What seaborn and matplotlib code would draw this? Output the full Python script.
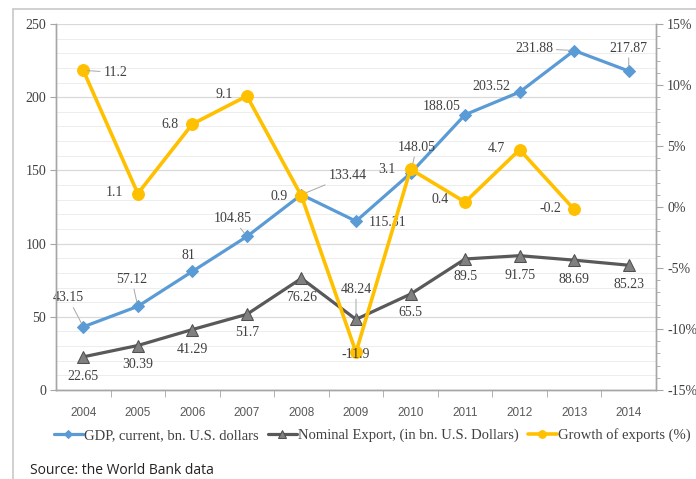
import pandas as pd
import matplotlib.pyplot as plt
import matplotlib.ticker as mticker
from matplotlib.lines import Line2D
import seaborn as sns

# Data
years = [2004, 2005, 2006, 2007, 2008, 2009, 2010, 2011, 2012, 2013, 2014]
gdp = [43.15, 57.12, 81, 104.85, 133.44, 115.31, 148.05, 188.05, 203.52, 231.88, 217.87]
export = [22.65, 30.39, 41.29, 51.7, 76.26, 48.24, 65.5, 89.5, 91.75, 88.69, 85.23]
growth_years = years[:-1]
growth = [11.2, 1.1, 6.8, 9.1, 0.9, -11.9, 3.1, 0.4, 4.7, -0.2]

gdp_lab = 'GDP, current, bn. U.S. dollars'
exp_lab = 'Nominal Export, (in bn. U.S. Dollars)'
gro_lab = 'Growth of exports (%)'

df = pd.DataFrame({'year': years, 'gdp': gdp, 'export': export})
dg = pd.DataFrame({'year': growth_years, 'growth': growth})

sns.set_style('white')
plt.rcParams['font.family'] = ['Liberation Serif', 'DejaVu Serif']

blue = '#5B9BD5'
dark = '#595959'
gold = '#FFC000'
axcol = '#A6A6A6'

fig = plt.figure(figsize=(6.96, 4.79), dpi=100)
ax = fig.add_axes([56/696, 1-390/479, 600/696, 366/479])
ax2 = ax.twinx()

sns.lineplot(data=df, x='year', y='gdp', ax=ax, color=blue, lw=2.3,
             marker='D', markersize=6, markeredgecolor=blue, label=gdp_lab, legend=False)
sns.lineplot(data=df, x='year', y='export', ax=ax, color=dark, lw=2.3,
             marker='^', markersize=8, markerfacecolor='#808080', markeredgecolor='#505050',
             label=exp_lab, legend=False)
sns.lineplot(data=dg, x='year', y='growth', ax=ax2, color=gold, lw=2.6,
             marker='o', markersize=8.5, markeredgecolor=gold, label=gro_lab, legend=False)

ax.set_xlim(2003.5, 2014.5)
ax.set_ylim(0, 250)
ax2.set_ylim(-15, 15)

ax.yaxis.set_major_locator(mticker.MultipleLocator(50))
ax.yaxis.set_minor_locator(mticker.MultipleLocator(10))
ax.grid(which='major', axis='y', color='#D9D9D9', lw=0.9)
ax.grid(which='minor', axis='y', color='#EDEDED', lw=0.7)
ax.set_axisbelow(True)

ax.set_xticks(years)
ax.set_xticklabels([str(y) for y in years], family=['Liberation Sans'], fontsize=8.5, color=dark)
ax.xaxis.set_minor_locator(mticker.FixedLocator([y + 0.5 for y in years[:-1]]))
ax.tick_params(axis='x', which='major', length=0, pad=12)
ax.tick_params(axis='x', which='minor', length=5, color=axcol, bottom=True)
ax.tick_params(axis='y', which='major', length=4, color=axcol, left=True, labelsize=10,
               labelcolor='#404040', pad=3)
ax.tick_params(axis='y', which='minor', length=0)

ax2.yaxis.set_major_locator(mticker.MultipleLocator(5))
ax2.yaxis.set_minor_locator(mticker.MultipleLocator(1))
ax2.yaxis.set_major_formatter(mticker.FuncFormatter(lambda v, p: f'{v:.0f}%'))
ax2.tick_params(axis='y', which='major', length=5, color=axcol, right=True, labelsize=10,
                labelcolor='#404040', pad=3)
ax2.tick_params(axis='y', which='minor', length=3, color=axcol, right=True)

for a in (ax, ax2):
    a.set_xlabel('')
    a.set_ylabel('')
    a.spines['top'].set_visible(False)
    for s in ['left', 'right', 'bottom']:
        a.spines[s].set_color(axcol)
        a.spines[s].set_linewidth(1)

k = 0.72  # pixels -> points
lead = dict(arrowstyle='-', color='#A6A6A6', lw=0.7, shrinkA=0, shrinkB=3)
txt = dict(fontsize=10, color='#404040', ha='center', va='center', textcoords='offset points')

gdp_off = [(-15, 29, True), (-6, 27, True), (-4, 16, False), (-14, 18, True), (46, 19, True),
           (32, -1, False), (6, 26, True), (-23, 8, False), (-28, 6, False), (-40, 2, True),
           (0, 23, True)]
for x, v, (dx, dy, ln) in zip(years, gdp, gdp_off):
    ax.annotate(f'{v:g}', (x, v), xytext=(dx*k, dy*k), arrowprops=lead if ln else None, **txt)

exp_off = [(0, -20), (0, -19), (0, -20), (0, -18), (0, -19), (0, 30), (0, -18),
           (0, -18), (0, -20), (0, -19), (0, -19)]
for x, v, (dx, dy) in zip(years, export, exp_off):
    ax.annotate(f'{v:g}', (x, v), xytext=(dx*k, dy*k),
                arrowprops=lead if dy > 0 else None, **txt)

gro_off = [(32, -2, True), (-23, 1, False), (-22, 0, False), (-23, 1, False), (-22, 0, False),
           (0, -2, False), (-24, 0, False), (-25, 3, False), (-23, 1, False), (-24, 1, False)]
for x, v, (dx, dy, ln) in zip(growth_years, growth, gro_off):
    ax2.annotate(f'{v:g}', (x, v), xytext=(dx*k, dy*k), arrowprops=lead if ln else None,
                 zorder=10, **txt)

h1, l1 = ax.get_legend_handles_labels()
h2, l2 = ax2.get_legend_handles_labels()
fig.legend(h1 + h2, l1 + l2, loc='center', bbox_to_anchor=(0.535, 1-435/479), ncol=3,
           frameon=False, fontsize=10.5, handlelength=2.0, handletextpad=0.1,
           columnspacing=0.6, labelcolor='#404040', markerscale=0.65)

fig.text(30/696, 1-470/479, 'Source: the World Bank data', family=['Open Sans'],
         fontsize=10, color='#222222', va='center')

# outer chart frame (top and left edges visible)
top = 1 - 8.5/479
left = 12.5/696
fig.add_artist(Line2D([left, 1.0], [top, top], transform=fig.transFigure, color='#C8C8C8', lw=1.2))
fig.add_artist(Line2D([left, left], [0.0, top], transform=fig.transFigure, color='#C8C8C8', lw=1.2))

fig.savefig('out.png', dpi=100)
